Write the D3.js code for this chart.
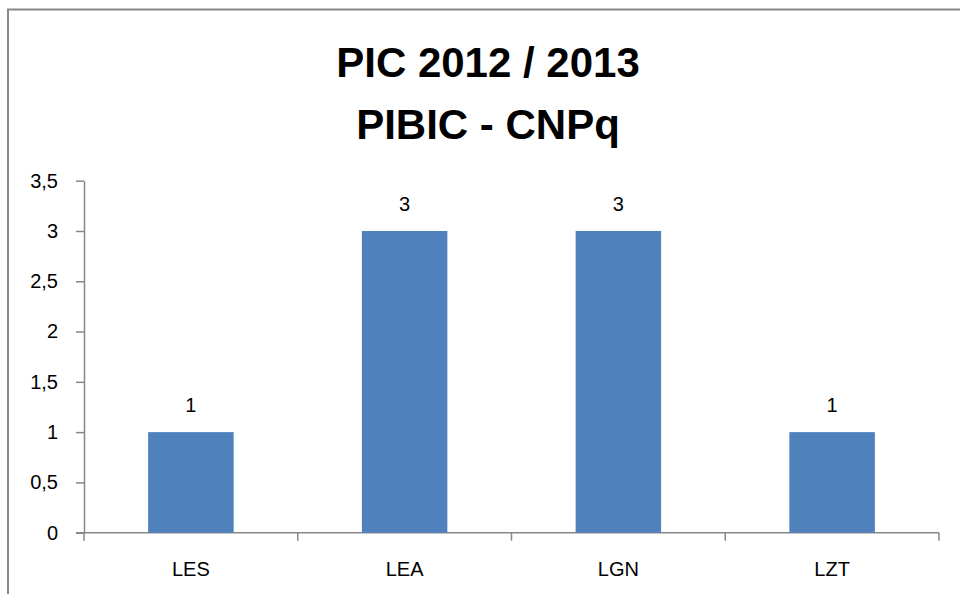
<!DOCTYPE html>
<html>
<head>
<meta charset="utf-8">
<script src="https://cdn.jsdelivr.net/npm/d3@7"></script>
<style>
  html, body { margin: 0; padding: 0; background: #fff; }
  svg { display: block; font-family: "Liberation Sans", Arial, sans-serif; }
</style>
</head>
<body>
<svg id="chart" width="960" height="594"></svg>
<script>
const titleLines = ["PIC 2012 / 2013", "PIBIC - CNPq"];
const categories = ["LES", "LEA", "LGN", "LZT"];
const values = [1, 3, 3, 1];
const yTicks = [0, 0.5, 1, 1.5, 2, 2.5, 3, 3.5];

const svg = d3.select("#chart");
const plot = { left: 84, right: 939, top: 180.7, bottom: 532.7 };

// chart border (extends beyond the visible area on right and bottom)
svg.append("rect")
  .attr("x", 8).attr("y", 9.5)
  .attr("width", 1000).attr("height", 700)
  .attr("fill", "none").attr("stroke", "#878787").attr("stroke-width", 2);

// title
const title = svg.append("text")
  .attr("text-anchor", "middle")
  .attr("font-weight", "bold")
  .attr("font-size", 42)
  .attr("fill", "#000");
title.selectAll("tspan").data(titleLines).join("tspan")
  .attr("x", 488)
  .attr("y", (d, i) => 77 + i * 62)
  .text(d => d);

const x = d3.scaleBand().domain(categories).range([plot.left, plot.right]).padding(0);
const y = d3.scaleLinear().domain([0, 3.5]).range([plot.bottom, plot.top]);
const fmt = d => String(d).replace(".", ",");

// y axis
const yAxis = svg.append("g")
  .attr("transform", `translate(${plot.left},0)`)
  .call(d3.axisLeft(y).tickValues(yTicks).tickFormat(fmt).tickSize(8).tickSizeOuter(0).tickPadding(18));
yAxis.attr("font-size", 20).attr("font-family", "Liberation Sans, Arial, sans-serif");
yAxis.select(".domain").attr("stroke", "#878787").attr("stroke-width", 1.5);
yAxis.selectAll(".tick line").attr("stroke", "#878787").attr("stroke-width", 1.5);
yAxis.selectAll(".tick text").attr("font-size", 20).attr("fill", "#000");

// x axis with ticks at category boundaries
const xAxisG = svg.append("g").attr("transform", `translate(0,${plot.bottom})`);
xAxisG.append("line")
  .attr("x1", plot.left - 8).attr("x2", plot.right)
  .attr("y1", 0).attr("y2", 0)
  .attr("stroke", "#878787").attr("stroke-width", 1.5);
const boundaries = categories.map(c => x(c)).concat([x(categories[categories.length - 1]) + x.bandwidth()]);
xAxisG.selectAll("line.tk").data(boundaries).join("line")
  .attr("class", "tk")
  .attr("x1", d => d).attr("x2", d => d)
  .attr("y1", 0).attr("y2", 8)
  .attr("stroke", "#878787").attr("stroke-width", 1.5);
xAxisG.selectAll("text").data(categories).join("text")
  .attr("x", d => x(d) + x.bandwidth() / 2)
  .attr("y", 43)
  .attr("text-anchor", "middle")
  .attr("font-size", 20)
  .attr("fill", "#000")
  .text(d => d);

// bars
const barFrac = 0.4;
const bw = x.bandwidth() * barFrac;
svg.append("g").selectAll("rect").data(values).join("rect")
  .attr("x", (d, i) => x(categories[i]) + (x.bandwidth() - bw) / 2)
  .attr("y", d => y(d))
  .attr("width", bw)
  .attr("height", d => y(0) - y(d))
  .attr("fill", "#4F81BD");

// data labels
svg.append("g").selectAll("text").data(values).join("text")
  .attr("x", (d, i) => x(categories[i]) + x.bandwidth() / 2)
  .attr("y", d => y(d) - 20)
  .attr("text-anchor", "middle")
  .attr("font-size", 20)
  .attr("fill", "#000")
  .text(d => fmt(d));
</script>
</body>
</html>
